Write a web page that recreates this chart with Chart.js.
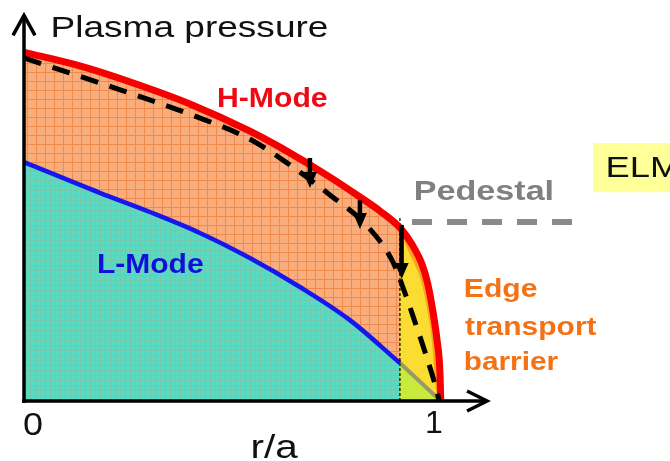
<!DOCTYPE html>
<html>
<head>
<meta charset="utf-8">
<script src="https://cdn.jsdelivr.net/npm/chart.js@4.4.1/dist/chart.umd.min.js"></script>
<style>
  html, body { margin: 0; padding: 0; background: #fff; }
</style>
</head>
<body>
<canvas id="chart" width="670" height="461"></canvas>
<script>
// r/a (x) and normalised plasma pressure (y)
const hModeR = [0, 0.134, 0.262, 0.398, 0.542, 0.614, 0.734, 0.806, 0.854, 0.902, 0.933, 0.955, 0.969, 0.981, 0.991, 0.998, 1.0];
const hModeP = [1.0, 0.961, 0.912, 0.852, 0.774, 0.728, 0.642, 0.585, 0.545, 0.497, 0.445, 0.392, 0.335, 0.258, 0.175, 0.083, 0.0];

// H-mode after the ELM crash (dashed)
const elmR = [0, 0.182, 0.410, 0.537, 0.631, 0.734, 0.823, 0.885, 0.914, 0.938, 0.962, 0.993, 0.996];
const elmP = [0.984, 0.912, 0.817, 0.754, 0.683, 0.591, 0.502, 0.399, 0.310, 0.227, 0.141, 0.017, 0.0];

const lModeR = [0, 0.182, 0.302, 0.422, 0.542, 0.662, 0.782, 0.902];
const lModeP = [0.685, 0.597, 0.542, 0.482, 0.410, 0.327, 0.232, 0.109];

// L-mode continuation inside the barrier region
const lEdgeR = [0.902, 1.0];
const lEdgeP = [0.109, 0.0];

// inner edge of the orange strip along the barrier
const stripR = [0.9045, 0.924, 0.9525, 0.967, 0.979, 0.988, 1.0];
const stripP = [0.480, 0.425, 0.345, 0.265, 0.170, 0.035, 0.0];

const pedestalR = 0.902;
const pedestalTop = 0.528;
const pedestalLevelR = [0.931, 1.317];
const pedestalLevelP = [0.513, 0.513];

// ELM arrows: position and from/to pressure
const arrowR = [0.686, 0.806, 0.906];
const arrowFrom = [0.697, 0.576, 0.505];
const arrowTo = [0.611, 0.493, 0.350];

const xAxisEnd = 1.111;
const yAxisEnd = 1.106;

const pts = (xs, ys) => xs.map((x, i) => ({ x: x, y: ys[i] }));

function gridPattern(base, line, cell) {
    const c = document.createElement('canvas');
    c.width = cell; c.height = cell;
    const g = c.getContext('2d');
    g.fillStyle = base;
    g.fillRect(0, 0, cell, cell);
    g.fillStyle = line;
    g.fillRect(0, 0, cell, 1);
    g.fillRect(0, 0, 1, cell);
    return g.createPattern(c, 'repeat');
}

const orangeGrid = gridPattern('#f9ad7c', '#f08a4a', 9);
const tealGrid = gridPattern('#55dcc2', '#74c8ae', 5);

const FONT = '"Liberation Sans", Arial, sans-serif';
const texts = [
    { text: 'Plasma pressure', r: 0.0696, p: 1.044, width: 274, font: '29px ' + FONT, color: '#111' },
    { text: 'H-Mode', r: 0.4655, p: 0.843, width: 109, font: 'bold 28px ' + FONT, color: '#ee0a14' },
    { text: 'L-Mode', r: 0.1775, p: 0.367, width: 105, font: 'bold 28px ' + FONT, color: '#1010d8' },
    { text: 'Pedestal', r: 0.938, p: 0.576, width: 137, font: 'bold 28px ' + FONT, color: '#808080' },
    { text: 'ELM', r: 1.401, p: 0.642, width: 70, font: '30px ' + FONT, color: '#111' },
    { text: 'Edge', r: 1.058, p: 0.298, width: 72, font: 'bold 26px ' + FONT, color: '#f47216' },
    { text: 'transport', r: 1.058, p: 0.189, width: 132, font: 'bold 26px ' + FONT, color: '#f47216' },
    { text: 'barrier', r: 1.058, p: 0.089, width: 93, font: 'bold 26px ' + FONT, color: '#f47216' },
    { text: '0', r: 0.0, p: -0.0975, width: 18, font: '32px ' + FONT, color: '#111' },
    { text: '1', r: 0.967, p: -0.092, width: null, font: '32px ' + FONT, color: '#111' },
    { text: 'r/a', r: 0.549, p: -0.163, width: 45, font: '34px ' + FONT, color: '#111' }
];
const elmBox = { r0: 1.365, r1: 1.55, p0: 0.740, p1: 0.599, color: '#ffff99' };

function drawText(ctx, t, x, y) {
    ctx.font = t.font;
    const m = ctx.measureText(t.text);
    const vis = m.actualBoundingBoxLeft + m.actualBoundingBoxRight;
    const sx = t.width ? t.width / vis : 1;
    ctx.save();
    ctx.translate(x + m.actualBoundingBoxLeft * sx, y);
    ctx.scale(sx, 1);
    ctx.fillStyle = t.color;
    ctx.textAlign = 'left';
    ctx.textBaseline = 'alphabetic';
    ctx.fillText(t.text, 0, 0);
    ctx.restore();
}

const sketchPlugin = {
    id: 'sketch',
    beforeDatasetsDraw(chart) {
        const ctx = chart.ctx;
        const xs = chart.scales.x, ys = chart.scales.y;
        ctx.save();
        ctx.fillStyle = elmBox.color;
        const bx = xs.getPixelForValue(elmBox.r0), by = ys.getPixelForValue(elmBox.p0);
        ctx.fillRect(bx, by, xs.getPixelForValue(elmBox.r1) - bx, ys.getPixelForValue(elmBox.p1) - by);
        ctx.restore();
    },
    afterDatasetsDraw(chart) {
        const ctx = chart.ctx;
        const xs = chart.scales.x, ys = chart.scales.y;
        ctx.save();

        // down arrows
        ctx.strokeStyle = '#000';
        ctx.fillStyle = '#000';
        arrowR.forEach((r, i) => {
            const x = xs.getPixelForValue(r);
            const y1 = ys.getPixelForValue(arrowFrom[i]);
            const y2 = ys.getPixelForValue(arrowTo[i]);
            ctx.lineWidth = 4.5;
            ctx.beginPath();
            ctx.moveTo(x, y1);
            ctx.lineTo(x, y2 - 12);
            ctx.stroke();
            ctx.beginPath();
            ctx.moveTo(x - 7, y2 - 16);
            ctx.lineTo(x + 7, y2 - 16);
            ctx.lineTo(x, y2);
            ctx.closePath();
            ctx.fill();
        });

        // axes with open arrow heads
        const x0 = xs.getPixelForValue(0), y0 = ys.getPixelForValue(0);
        const xe = xs.getPixelForValue(xAxisEnd), ye = ys.getPixelForValue(yAxisEnd);
        ctx.lineWidth = 3.5;
        ctx.lineCap = 'butt';
        ctx.beginPath();
        ctx.moveTo(x0 - 2, y0);
        ctx.lineTo(xe, y0);
        ctx.moveTo(x0, y0 + 2);
        ctx.lineTo(x0, ye);
        ctx.stroke();
        ctx.lineJoin = 'miter';
        ctx.beginPath();
        ctx.moveTo(xe - 20, y0 - 10);
        ctx.lineTo(xe, y0);
        ctx.lineTo(xe - 20, y0 + 10);
        ctx.moveTo(x0 - 11, ye + 20);
        ctx.lineTo(x0, ye);
        ctx.lineTo(x0 + 11, ye + 20);
        ctx.stroke();

        texts.forEach(t => drawText(ctx, t, xs.getPixelForValue(t.r), ys.getPixelForValue(t.p)));
        ctx.restore();
    }
};

new Chart(document.getElementById('chart'), {
    type: 'line',
    data: {
        datasets: [
            { // 0 pedestal region
                data: pts(hModeR, hModeP), fill: 'origin', backgroundColor: '#fadc32',
                borderWidth: 0, cubicInterpolationMode: 'monotone', order: 10
            },
            { // 1 H-mode increment above L-mode
                data: pts(hModeR, hModeP), fill: 4, backgroundColor: orangeGrid,
                borderWidth: 0, cubicInterpolationMode: 'monotone', order: 9
            },
            { // 2 orange strip along barrier
                data: pts(stripR, stripP), fill: 0, backgroundColor: '#ffa21a',
                borderWidth: 0, cubicInterpolationMode: 'monotone', order: 8
            },
            { // 3 L-mode continuation
                data: pts(lEdgeR, lEdgeP), fill: 'origin', backgroundColor: '#c8ea3c',
                borderColor: 'rgba(135,135,115,0.8)', borderWidth: 4, order: 7
            },
            { // 4 L-mode
                data: pts(lModeR, lModeP), fill: 'origin', backgroundColor: tealGrid,
                borderColor: '#1616ee', borderWidth: 4.5, cubicInterpolationMode: 'monotone', order: 6, clip: false
            },
            { // 5 pedestal position
                data: [{ x: pedestalR, y: 0 }, { x: pedestalR, y: pedestalTop }], fill: false,
                borderColor: '#000', borderWidth: 1.2, borderDash: [3, 2], order: 5
            },
            { // 6 H-mode
                data: pts(hModeR, hModeP), fill: false, borderColor: '#f50000', borderWidth: 7,
                cubicInterpolationMode: 'monotone', order: 4, clip: false
            },
            { // 7 after ELM
                data: pts(elmR, elmP), fill: false, borderColor: '#000', borderWidth: 5,
                borderDash: [18, 12], cubicInterpolationMode: 'monotone', order: 3, clip: false
            },
            { // 8 pedestal level
                data: pts(pedestalLevelR, pedestalLevelP), fill: false, borderColor: '#8a8a8a',
                borderWidth: 6, borderDash: [20, 15], order: 2
            }
        ]
    },
    options: {
        responsive: false,
        animation: false,
        events: [],
        layout: { padding: { left: 24, right: 0, top: 0, bottom: 60 } },
        elements: { point: { radius: 0 }, line: { borderCapStyle: 'butt' } },
        scales: {
            x: { type: 'linear', min: 0, max: 1.55, display: false },
            y: { type: 'linear', min: 0, max: 1.15, display: false }
        },
        plugins: { legend: { display: false }, tooltip: { enabled: false } }
    },
    plugins: [sketchPlugin]
});
</script>
</body>
</html>
